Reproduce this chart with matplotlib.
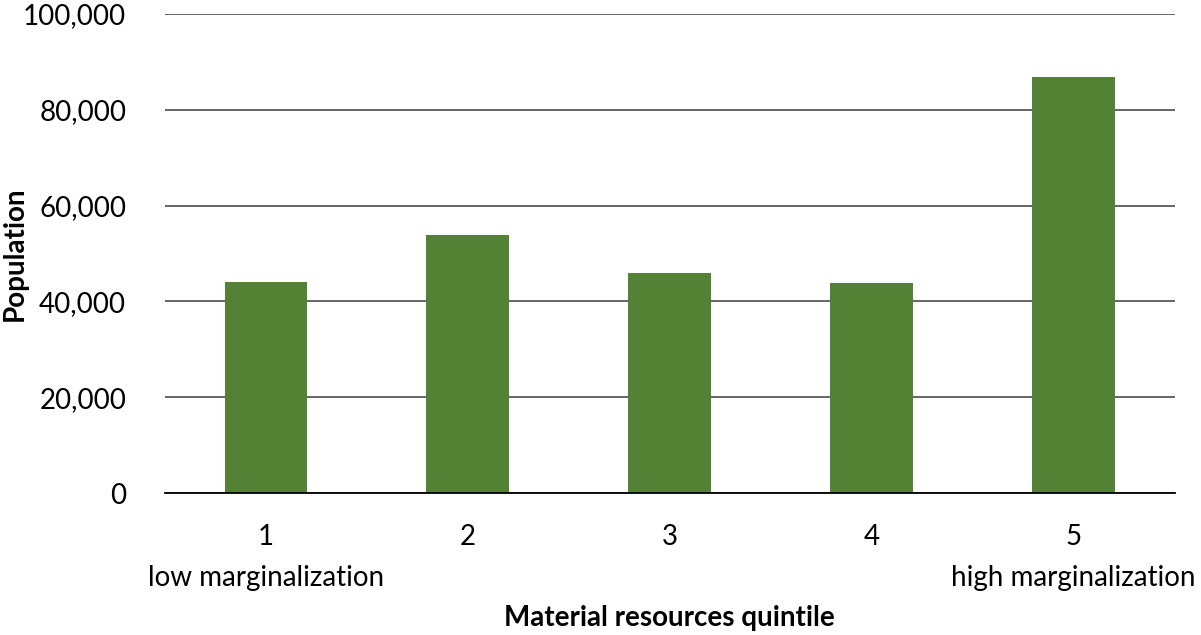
import numpy as np
import matplotlib.pyplot as plt
from matplotlib.ticker import FuncFormatter

quintiles = ['1', '2', '3', '4', '5']
sublabels = ['low marginalization', '', '', '', 'high marginalization']
population = [44000, 53800, 45900, 43800, 86800]

plt.rcParams['font.family'] = ['Lato', 'DejaVu Sans']

fig = plt.figure(figsize=(12.01, 6.35), dpi=100)
ax = fig.add_axes([0.1374, 0.2236, 0.8406, 0.7544])

x = np.arange(len(quintiles))
ax.bar(x, population, width=0.41, color='#548235', zorder=3)

ax.set_xlim(-0.5, 4.5)
ax.set_ylim(0, 100000)
ax.set_yticks(np.arange(0, 100001, 20000))
ax.yaxis.set_major_formatter(FuncFormatter(lambda v, p: f'{int(v):,}'))
ax.grid(axis='y', color='#595959', linewidth=1.3, zorder=0)

for s in ['top', 'right', 'left']:
    ax.spines[s].set_visible(False)
ax.spines['bottom'].set_color('black')
ax.spines['bottom'].set_linewidth(1.3)
ax.spines['bottom'].set_zorder(4)

ax.set_xticks(x)
ax.set_xticklabels([q + '\n' + s for q, s in zip(quintiles, sublabels)],
                   linespacing=1.75, va='top')
ax.tick_params(axis='x', length=0, pad=22, labelsize=20)
ax.tick_params(axis='y', length=0, pad=28, labelsize=20)

ax.set_xlabel('Material resources quintile', fontsize=20, fontweight='bold', labelpad=10)
ax.set_ylabel('Population', fontsize=20, fontweight='bold')
ax.yaxis.set_label_coords(-0.136, 0.5)

fig.savefig('out.png', dpi=100)
